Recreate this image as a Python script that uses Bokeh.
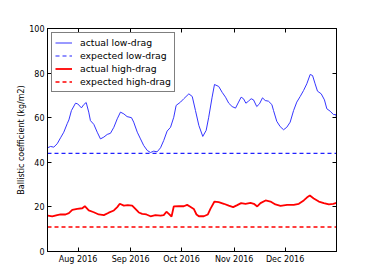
import pandas as pd
from bokeh.plotting import figure
from bokeh.models import (Range1d, DatetimeAxis, LinearAxis, FixedTicker,
                          DatetimeTickFormatter, Legend, LegendItem)
from bokeh.embed import file_html
from bokeh.resources import INLINE

start_date = "2016-07-14"
end_offset_days = 170.3

# days since start_date
days_low = [0, 1.8, 3.7, 5.7, 7.7, 9.6, 11.6, 12.6, 14.1, 16.5, 17.8, 20, 21.4, 22.8,
            24.3, 25.3, 27.3, 29.3, 31.2, 33.2, 35.2, 37.1, 39.1, 41.1, 43, 45, 46.9,
            49.5, 50.8, 52.9, 54.8, 56.7, 58.8, 60.7, 62.6, 64.6, 66.6, 68.5, 70.5,
            72.5, 74.4, 75.8, 78.4, 80.3, 83.3, 85.3, 87.2, 89.2, 91.5, 93.5, 95, 97,
            98.4, 100.9, 102.9, 104.9, 106.8, 108.8, 110.8, 112.6, 114.1, 115.5, 116.9,
            118.4, 120, 121.4, 123.3, 124.9, 126.7, 128.3, 130.2, 132.2, 133.2, 135.1,
            137.1, 139.1, 141, 143, 145, 146.9, 148.9, 150.9, 152.8, 154.8, 156.2,
            157.7, 159.1, 161.3, 163.2, 164.6, 166.6, 168.5, 169.9, 170.3]
low_drag = [46.5, 47.1, 46.8, 48.3, 51, 53.5, 57.3, 59, 63.2, 66.5, 66.2, 64.4, 65.9, 66.8,
            62.5, 58.7, 57, 53.5, 50.5, 51.3, 52.5, 53, 55.7, 59.5, 62.5, 61.7, 60.5,
            60, 58, 53.5, 50.5, 47.5, 45.3, 44.4, 45, 44.7, 46.5, 49.8, 54,
            55.7, 60.2, 65.5, 67, 68.5, 70.7, 69.5, 63.2, 56.5, 51.6, 54.3, 60.2, 69.2,
            74.9, 74, 71.4, 69.2, 66.5, 65, 64.3, 67, 69.2, 68.5, 66.5,
            67.4, 68.5, 68, 65, 66.2, 68.9, 67.7, 67.4, 65.9, 63.2, 58.4,
            56, 54.6, 55.7, 58, 63.2, 67, 69.5, 72.2, 75.2, 79.4, 78.9,
            75.2, 71.9, 70.7, 68, 64, 62.9, 61.4, 61.4, 60]

days_high = [0.2, 2.8, 5.7, 7.7, 10.6, 12.6, 14.6, 17.5, 20.5, 22, 24.3, 27.3, 30.2, 33.2,
             36.1, 39.1, 41.1, 42.6, 45, 47.3, 49.9, 51.8, 53.8, 55.8, 58.3, 60.7, 63.6,
             66.6, 68.5, 70.1, 71.5, 73.1, 74.4, 77.4, 80.3, 82.3, 83.9, 86.2, 87.8,
             89.2, 92.1, 94.5, 96, 98.4, 100.9, 103.9, 106.8, 109.4, 111.8, 114.1, 116.7,
             119.6, 121.6, 123.6, 125.5, 128.5, 131.4, 134.3, 137.3, 141.2, 145.1, 148.1,
             151, 153, 154.6, 156.9, 159.9, 162.8, 165.8, 168.4, 170.3]
high_drag = [16.1, 15.7, 16.3, 16.6, 16.6, 17.2, 18.7, 19.1, 19.4, 20.3, 18.4, 17.6, 16.6, 16.3,
             17.4, 18.4, 19.9, 21.4, 20.6, 20.8, 20.6, 19.1, 17.5, 16.9, 16.6, 15.8, 16.3,
             16.1, 16.3, 17.8, 16.9, 15.7, 20.2, 20.3, 20.3, 20.9, 20.2, 19.1, 16.6,
             15.8, 15.8, 16.6, 19.1, 22.4, 22.1, 21.4, 20.6, 19.9, 20.8, 21.7, 21.4,
             21.8, 21.4, 20.2, 21.7, 22.9, 22.4, 21.1, 20.5, 20.9, 20.9, 21.4,
             22.9, 24.3, 25.1, 23.8, 22.4, 21.7, 21.1, 21.4, 21.8]

expected_low = [44, 44]
expected_high = [11, 11]

month_ticks = ["2016-08-01", "2016-09-01", "2016-10-01", "2016-11-01", "2016-12-01"]
y_ticks = [0, 20, 40, 60, 80, 100]
y_label = "Ballistic coefficient (kg/m2)"
series_labels = ["actual low-drag", "expected low-drag", "actual high-drag", "expected high-drag"]

t0 = pd.Timestamp(start_date)
t_end = t0 + pd.Timedelta(days=end_offset_days)
x_low = [t0 + pd.Timedelta(days=d) for d in days_low]
x_high = [t0 + pd.Timedelta(days=d) for d in days_high]
x_span = [t0, t_end]
tick_ms = [pd.Timestamp(m).value // 10**6 for m in month_ticks]

FONT = "DejaVu Sans"

p = figure(width=374, height=280, x_axis_type=None, y_axis_type=None,
           x_range=Range1d(t0, t_end), y_range=Range1d(0, 100),
           output_backend="svg", toolbar_location=None,
           min_border_left=47, min_border_right=38, min_border_top=28, min_border_bottom=29)
p.xgrid.visible = False
p.ygrid.visible = False
p.outline_line_color = "black"
p.outline_line_width = 1
p.background_fill_color = "white"
p.border_fill_color = "white"

fmt_str = "%b %Y"


def make_fmt():
    return DatetimeTickFormatter(microseconds=fmt_str, milliseconds=fmt_str, seconds=fmt_str,
                                 minsec=fmt_str, minutes=fmt_str, hourmin=fmt_str, hours=fmt_str,
                                 days=fmt_str, months=fmt_str, years=fmt_str)


def style(ax, labels=True):
    ax.axis_line_color = "black"
    ax.major_tick_in = 4
    ax.major_tick_out = 0
    ax.minor_tick_in = 0
    ax.minor_tick_out = 0
    ax.major_tick_line_color = "black"
    ax.major_label_text_font = FONT
    ax.major_label_text_font_size = "8px"
    ax.major_label_text_color = "black"
    if not labels:
        ax.major_label_text_color = None
        ax.major_label_text_font_size = "1px"


xb = DatetimeAxis(ticker=FixedTicker(ticks=tick_ms), formatter=make_fmt())
style(xb)
xb.major_label_standoff = 3
p.add_layout(xb, "below")

xt = DatetimeAxis(ticker=FixedTicker(ticks=tick_ms), formatter=make_fmt())
style(xt, labels=False)
p.add_layout(xt, "above")

yl = LinearAxis(ticker=FixedTicker(ticks=y_ticks), axis_label=y_label)
style(yl)
yl.major_label_standoff = 3
yl.axis_label_text_font = FONT
yl.axis_label_text_font_size = "8px"
yl.axis_label_text_font_style = "normal"
yl.axis_label_text_color = "black"
yl.axis_label_standoff = 0
p.add_layout(yl, "left")

yr = LinearAxis(ticker=FixedTicker(ticks=y_ticks))
style(yr, labels=False)
p.add_layout(yr, "right")

r1 = p.line(x_low, low_drag, line_color="#3535ff", line_width=1)
r2 = p.line(x_span, expected_low, line_color="#2222ff", line_width=1.1, line_dash="4 3")
r3 = p.line(x_high, high_drag, line_color="#ff0000", line_width=1.8)
r4 = p.line(x_span, expected_high, line_color="#ff0000", line_width=1.6, line_dash="4 3")

legend = Legend(items=[LegendItem(label=series_labels[0], renderers=[r1]),
                       LegendItem(label=series_labels[1], renderers=[r2]),
                       LegendItem(label=series_labels[2], renderers=[r3]),
                       LegendItem(label=series_labels[3], renderers=[r4])],
                location="top_left", margin=4, padding=3, spacing=0,
                label_height=13, glyph_height=13, glyph_width=17, label_standoff=8,
                label_text_font=FONT, label_text_font_size="9.3px", label_text_color="black",
                border_line_color="black", border_line_width=1,
                background_fill_color="white", background_fill_alpha=1)
p.add_layout(legend)

open("out.html", "w").write(file_html(p, INLINE))
